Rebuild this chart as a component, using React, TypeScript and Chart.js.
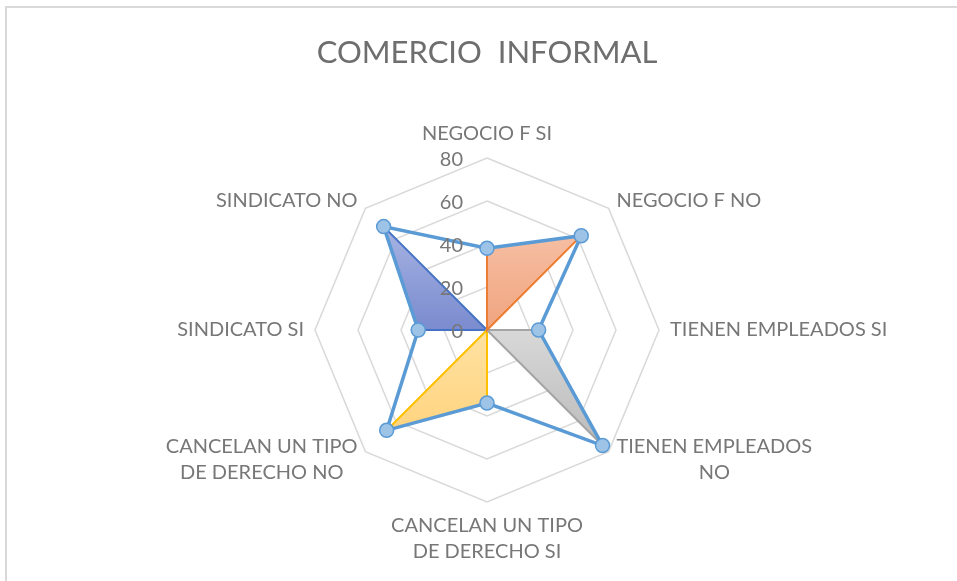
import React, { useEffect, useRef } from 'react';
import { Chart, registerables } from 'chart.js';

Chart.register(...registerables);

// ---- data ----
const categories: (string | string[])[] = [
  'NEGOCIO F SI',
  'NEGOCIO F NO',
  'TIENEN EMPLEADOS SI',
  ['TIENEN EMPLEADOS', 'NO'],
  ['CANCELAN UN TIPO', 'DE DERECHO SI'],
  ['CANCELAN UN TIPO', 'DE DERECHO NO'],
  'SINDICATO SI',
  'SINDICATO NO',
];
const totalValues = [38, 62, 24, 76, 34, 66, 32, 68];
const negocioValues = [38, 62, 0, 0, 0, 0, 0, 0];
const empleadosValues = [0, 0, 24, 76, 0, 0, 0, 0];
const cancelanValues = [0, 0, 0, 0, 34, 66, 0, 0];
const sindicatoValues = [0, 0, 0, 0, 0, 0, 32, 68];
const tickValues = [0, 20, 40, 60, 80];
const chartTitle = 'COMERCIO  INFORMAL';

const FONT = 'Lato';
const TEXT_COLOR = '#777777';

function shapeGradient(c: any, top: string, bottom: string) {
  const chart = c.chart;
  const scale = chart.scales && chart.scales.r;
  if (!scale || !chart.chartArea || c.datasetIndex === undefined) return bottom;
  const data = chart.data.datasets[c.datasetIndex].data as number[];
  let minY = Infinity;
  let maxY = -Infinity;
  data.forEach((v, i) => {
    const p = scale.getPointPositionForValue(i, v);
    minY = Math.min(minY, p.y);
    maxY = Math.max(maxY, p.y);
  });
  if (!isFinite(minY) || maxY - minY < 1) return bottom;
  const g = chart.ctx.createLinearGradient(0, minY, 0, maxY);
  g.addColorStop(0, top);
  g.addColorStop(1, bottom);
  return g;
}

const framePlugin = {
  id: 'frame',
  beforeDraw(chart: any) {
    const ctx = chart.ctx;
    ctx.save();
    ctx.fillStyle = '#FFFFFF';
    ctx.fillRect(0, 0, chart.width, chart.height);
    ctx.strokeStyle = '#D9D9D9';
    ctx.lineWidth = 2;
    ctx.beginPath();
    ctx.moveTo(6, chart.height);
    ctx.lineTo(6, 7);
    ctx.lineTo(chart.width, 7);
    ctx.stroke();
    ctx.restore();
  },
};

const textPlugin = {
  id: 'radarText',
  afterDatasetsDraw(chart: any) {
    const scale = chart.scales.r;
    const ctx = chart.ctx;
    ctx.save();
    ctx.font = `20px ${FONT}`;
    ctx.fillStyle = TEXT_COLOR;
    // tick labels
    ctx.textAlign = 'right';
    ctx.textBaseline = 'middle';
    scale.ticks.forEach((t: any) => {
      const d = scale.getDistanceFromCenterForValue(t.value);
      ctx.fillText(String(t.value), scale.xCenter - 24, scale.yCenter - d + 2);
    });
    // point labels
    const labels = chart.data.labels as (string | string[])[];
    const lh = 26;
    ctx.textAlign = 'center';
    labels.forEach((raw, i) => {
      const lines = Array.isArray(raw) ? raw : [raw];
      const p = scale.getPointPosition(i, scale.drawingArea + 11);
      const a = scale.getIndexAngle(i) - Math.PI / 2;
      const cos = Math.cos(a);
      const sin = Math.sin(a);
      const w = Math.max(...lines.map((l) => ctx.measureText(l).width));
      const h = lines.length * lh;
      let cx = p.x;
      if (Math.abs(cos) > 0.01) cx = cos > 0 ? p.x + w / 2 : p.x - w / 2;
      let cy = p.y;
      if (Math.abs(sin) > 0.99) cy = sin < 0 ? p.y - h / 2 : p.y + h / 2;
      lines.forEach((l, k) => {
        ctx.fillText(l, cx, cy - h / 2 + lh / 2 + k * lh);
      });
    });
    ctx.restore();
  },
};

export default function App() {
  const canvasRef = useRef<HTMLCanvasElement | null>(null);

  useEffect(() => {
    if (!canvasRef.current) return;
    const chart = new Chart(canvasRef.current, {
      type: 'radar',
      data: {
        labels: categories,
        datasets: [
          {
            label: 'Total',
            data: totalValues,
            borderColor: '#5B9BD5',
            borderWidth: 3.5,
            pointRadius: 7,
            pointBackgroundColor: '#9DC3E6',
            pointBorderColor: '#5B9BD5',
            pointBorderWidth: 1.5,
            fill: false,
          },
          {
            label: 'Negocio',
            data: negocioValues,
            borderColor: '#ED7D31',
            borderWidth: 2,
            backgroundColor: (c: any) => shapeGradient(c, '#F6BEA2', '#F0A47F'),
            fill: 'origin',
            pointRadius: 0,
          },
          {
            label: 'Empleados',
            data: empleadosValues,
            borderColor: '#A5A5A5',
            borderWidth: 2,
            backgroundColor: (c: any) => shapeGradient(c, '#D8D8D8', '#BBBBBB'),
            fill: 'origin',
            pointRadius: 0,
          },
          {
            label: 'Cancelan',
            data: cancelanValues,
            borderColor: '#FFC000',
            borderWidth: 2,
            backgroundColor: (c: any) => shapeGradient(c, '#FFE2A3', '#FFD47F'),
            fill: 'origin',
            pointRadius: 0,
          },
          {
            label: 'Sindicato',
            data: sindicatoValues,
            borderColor: '#4472C4',
            borderWidth: 2,
            backgroundColor: (c: any) => shapeGradient(c, '#A6B3E2', '#7A8BCF'),
            fill: 'origin',
            pointRadius: 0,
          },
        ],
      },
      options: {
        responsive: false,
        animation: false,
        layout: { padding: { top: 0, bottom: 78, left: 140, right: 123 } },
        elements: { line: { tension: 0 } },
        scales: {
          r: {
            min: tickValues[0],
            max: tickValues[tickValues.length - 1],
            ticks: { stepSize: tickValues[1] - tickValues[0], display: false },
            grid: { color: '#D9D9D9', lineWidth: 1.5 },
            angleLines: { display: false },
            pointLabels: { display: false },
          },
        },
        plugins: {
          legend: { display: false },
          tooltip: { enabled: false },
          title: {
            display: true,
            text: chartTitle,
            color: '#6E6E6E',
            font: { family: FONT, size: 31, weight: 'normal' },
            padding: { top: 34, bottom: 87 },
          },
        },
      },
      plugins: [framePlugin, textPlugin],
    });
    return () => chart.destroy();
  }, []);

  return (
    <div style={{ position: 'absolute', left: 0, top: 0, width: 957, height: 581, background: '#fff' }}>
      <canvas ref={canvasRef} width={957} height={581} style={{ display: 'block' }} />
    </div>
  );
}
